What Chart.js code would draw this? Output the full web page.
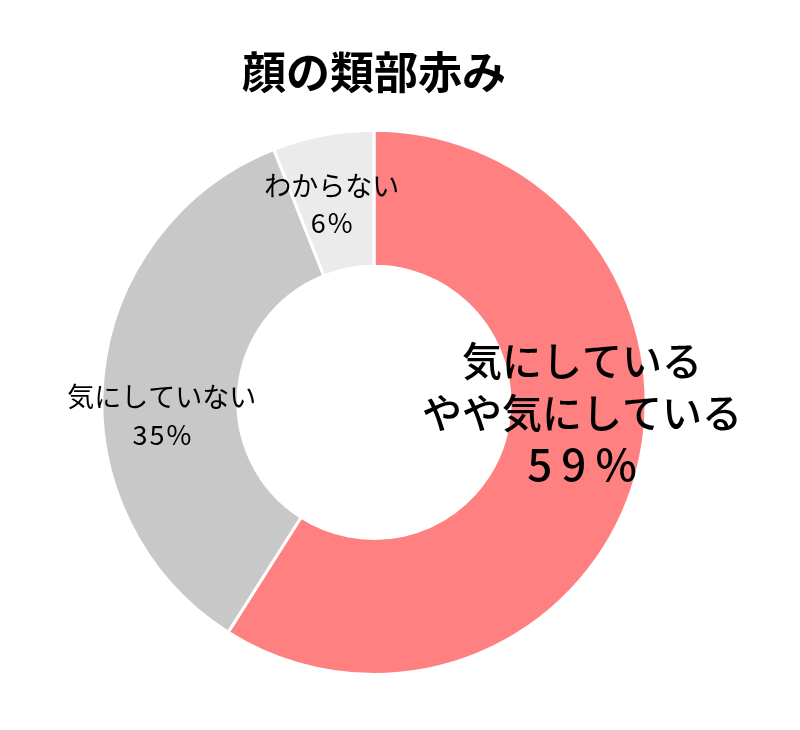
<!DOCTYPE html>
<html>
<head>
<meta charset="utf-8">
<script src="https://cdn.jsdelivr.net/npm/chart.js@4"></script>
<style>
  html, body { margin: 0; padding: 0; background: #fff; }
  #wrap { width: 800px; height: 730px; }
</style>
</head>
<body>
<div id="wrap"><canvas id="chart"></canvas></div>
<script>
// data
var categories = ['気にしている\nやや気にしている', '気にしていない', 'わからない'];
var values = [59, 35, 6];
var sliceColors = ['#FF8080', '#C8C8C8', '#EBEBEB'];
var chartTitle = '顔の類部赤み';

var FONT = "'Noto Sans CJK JP', 'Noto Sans', sans-serif";

// draws category + percent on each slice
var sliceLabels = {
  id: 'sliceLabels',
  afterDatasetsDraw: function (chart) {
    var ctx = chart.ctx;
    var meta = chart.getDatasetMeta(0);
    // tweak per slice so it sits like the original
    var tweak = [
      { dx: 12, dy: -47, size: 40, lh: 52, pctSize: 44, pctSpace: 9, weight: '500' },
      { dx: -9, dy: 33, size: 27, lh: 38, pctSize: 27, pctSpace: 2, weight: '400' },
      { dx: -4, dy: 2, size: 27, lh: 37, pctSize: 27, pctSpace: 2, weight: '400' }
    ];
    ctx.save();
    ctx.fillStyle = '#000';
    ctx.textAlign = 'center';
    ctx.textBaseline = 'middle';
    meta.data.forEach(function (arc, i) {
      var p = arc.tooltipPosition();
      var t = tweak[i];
      var lines = categories[i].split('\n');
      lines.push(values[i] + '%');
      var y0 = p.y + t.dy - (lines.length - 1) * t.lh / 2;
      lines.forEach(function (ln, k) {
        var isPct = k === lines.length - 1;
        ctx.font = t.weight + ' ' + (isPct ? t.pctSize : t.size) + 'px ' + FONT;
        ctx.letterSpacing = isPct ? t.pctSpace + 'px' : '0px';
        // letterSpacing adds trailing space, shift back half of it
        var sx = isPct ? t.pctSpace / 2 : 0;
        ctx.fillText(ln, p.x + t.dx + sx, y0 + k * t.lh);
      });
    });
    ctx.restore();
  }
};

new Chart(document.getElementById('chart'), {
  type: 'doughnut',
  data: {
    labels: categories,
    datasets: [{
      data: values,
      backgroundColor: sliceColors,
      borderColor: '#ffffff',
      borderWidth: 3
    }]
  },
  options: {
    responsive: true,
    maintainAspectRatio: false,
    animation: false,
    events: [],
    cutout: '50%',
    layout: { padding: { left: 0, right: 52, top: 0, bottom: 54 } },
    plugins: {
      legend: { display: false },
      tooltip: { enabled: false },
      title: {
        display: true,
        text: chartTitle,
        color: '#000',
        font: { family: FONT, size: 44, weight: 'bold' },
        padding: { top: 46, bottom: 30 }
      }
    }
  },
  plugins: [sliceLabels]
});
</script>
</body>
</html>
